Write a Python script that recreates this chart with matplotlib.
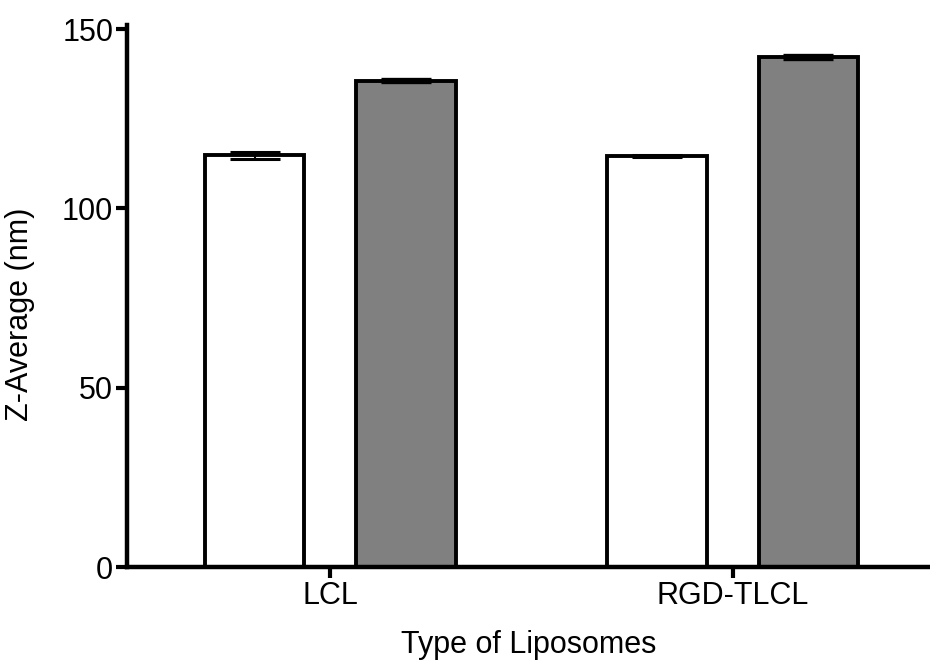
import numpy as np
import matplotlib.pyplot as plt

plt.rcParams['font.family'] = ['Liberation Sans', 'DejaVu Sans']

# z-average size of each liposome type, two measurements per type
liposomes = ['LCL', 'RGD-TLCL']
size_a = [114.8, 114.6]
size_a_err = [0.9, 0.2]
size_b = [135.6, 142.2]
size_b_err = [0.5, 0.5]

x = np.arange(len(liposomes))
w = 0.2475
off = 0.188

fig = plt.figure(figsize=(9.3, 6.64), dpi=100)
ax = fig.add_axes([0.1366, 0.146, 0.8634, 0.8103])

ax.bar(x - off, size_a, w, color='white', edgecolor='black', linewidth=2.8,
       yerr=size_a_err, capsize=18,
       error_kw=dict(elinewidth=1.5, capthick=2.2, ecolor='black'))
ax.bar(x + off, size_b, w, color='#808080', edgecolor='black', linewidth=2.8,
       yerr=size_b_err, capsize=18,
       error_kw=dict(elinewidth=1.5, capthick=2.4, ecolor='black'))

ax.set_xlim(-0.505, 1.49)
ax.set_ylim(0, 150)
ax.set_yticks([0, 50, 100, 150])
ax.set_xticks(x)
ax.set_xticklabels(liposomes)

for s in ['top', 'right']:
    ax.spines[s].set_visible(False)
for s in ['left', 'bottom']:
    ax.spines[s].set_linewidth(3.2)
ax.spines['left'].set_bounds(0, 151)

ax.tick_params(axis='both', direction='out', length=8, width=3, labelsize=22, pad=2)
ax.set_xlabel('Type of Liposomes', fontsize=22, labelpad=14)
ax.set_ylabel('Z-Average (nm)', fontsize=22, labelpad=16)
ax.yaxis.set_label_coords(-0.115, 0.47)

fig.savefig('out.png', dpi=100)
